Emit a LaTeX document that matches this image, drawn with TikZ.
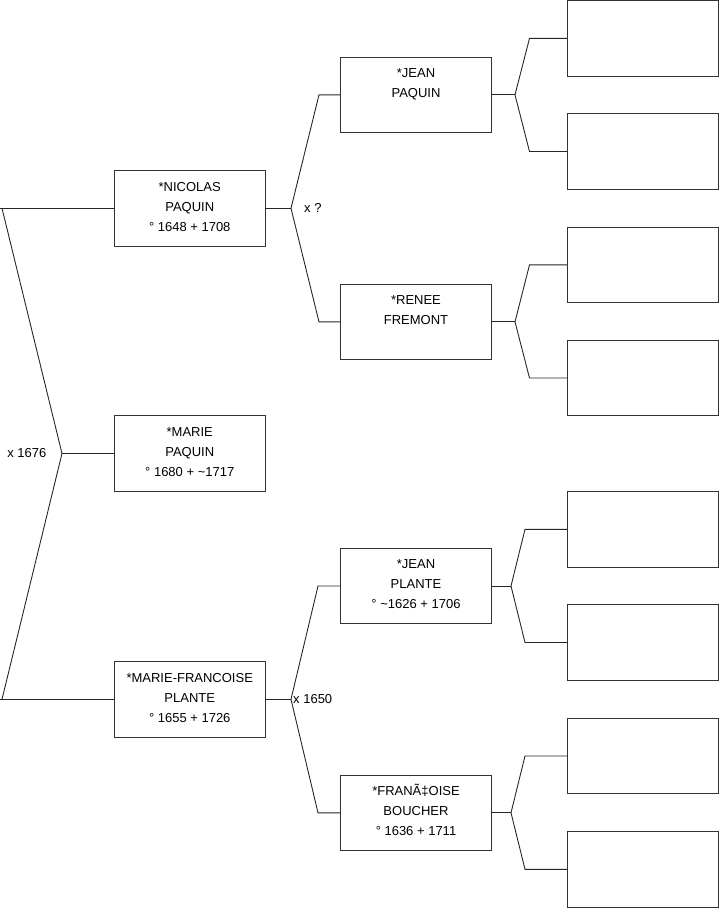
\documentclass[tikz,border=0pt]{standalone}
\usepackage{fontspec}
\setmainfont{Liberation Sans}
\newcommand{\ptext}[1]{\parbox[c][75.5pt][t]{151pt}{\centering\fontsize{13}{20}\selectfont\rule{0pt}{20.6pt}#1\par}}
\tikzset{
  pbox/.style={draw=black!80, line width=0.9pt, inner sep=0pt, minimum width=151pt, minimum height=75.5pt},
  conn/.style={draw=black!85, line width=0.9pt},
  lbl/.style={font=\fontsize{13}{15}\selectfont, inner sep=0pt}
}
\begin{document}
\begin{tikzpicture}[x=1pt,y=-1pt]
\useasboundingbox (0,0) rectangle (719,908);
% generation 1
\node[pbox] (nic) at (189.75,208.3) {\ptext{*NICOLAS\\PAQUIN\\° 1648 + 1708}};
\node[pbox] (mar) at (189.75,453.5) {\ptext{*MARIE\\PAQUIN\\° 1680 + \textasciitilde1717}};
\node[pbox] (mf) at (189.75,699.3) {\ptext{*MARIE-FRANCOISE\\PLANTE\\° 1655 + 1726}};
% generation 2
\node[pbox] (jpa) at (416,94.8) {\ptext{*JEAN\\PAQUIN}};
\node[pbox] (ren) at (416,321.8) {\ptext{*RENEE\\FREMONT}};
\node[pbox] (jpl) at (416,586) {\ptext{*JEAN\\PLANTE\\° \textasciitilde1626 + 1706}};
\node[pbox] (fra) at (416,812.8) {\ptext{*FRANÃ‡OISE\\BOUCHER\\° 1636 + 1711}};
% generation 3 (empty)
\node[pbox] (e1) at (642.8,38.3) {};
\node[pbox] (e2) at (642.8,151.5) {};
\node[pbox] (e3) at (642.8,264.8) {};
\node[pbox] (e4) at (642.8,378) {};
\node[pbox] (e5) at (642.8,529.3) {};
\node[pbox] (e6) at (642.8,642.5) {};
\node[pbox] (e7) at (642.8,756) {};
\node[pbox] (e8) at (642.8,869.3) {};
% junction coordinates
\coordinate (l0) at (0,208.3);
\coordinate (l1) at (2,208.3);
\coordinate (lv) at (62,453.5);
\coordinate (l2) at (2,699.3);
\coordinate (l3) at (0,699.3);
\coordinate (nv) at (291,208.3);
\coordinate (nt) at (319,94.8);
\coordinate (nb) at (319,321.8);
\coordinate (mv) at (291,699.3);
\coordinate (mt) at (318,586);
\coordinate (mb) at (318,812.8);
\coordinate (av) at (515,94.8);
\coordinate (at1) at (529.5,38.3);
\coordinate (ab1) at (529.5,151.5);
\coordinate (bv) at (515,321.8);
\coordinate (bt) at (529.5,264.8);
\coordinate (bb) at (529.5,378);
\coordinate (cv) at (511,586);
\coordinate (ct) at (525,529.3);
\coordinate (cb) at (525,642.5);
\coordinate (dv) at (511,812.8);
\coordinate (dt) at (525,756);
\coordinate (db) at (525,869.3);
% connectors
\draw[conn] (nic.west) -- (l0);
\draw[conn] (l1) -- (lv) -- (l2);
\draw[conn] (l3) -- (mf.west);
\draw[conn] (lv) -- (mar.west);
\draw[conn] (nic.east) -- (nv);
\draw[conn] (jpa.west) -- (nt) -- (nv) -- (nb) -- (ren.west);
\draw[conn] (mf.east) -- (mv);
\draw[conn] (jpl.west) -- (mt) -- (mv) -- (mb) -- (fra.west);
\draw[conn] (jpa.east) -- (av);
\draw[conn] (e1.west) -- (at1) -- (av) -- (ab1) -- (e2.west);
\draw[conn] (ren.east) -- (bv);
\draw[conn] (e3.west) -- (bt) -- (bv) -- (bb) -- (e4.west);
\draw[conn] (jpl.east) -- (cv);
\draw[conn] (e5.west) -- (ct) -- (cv) -- (cb) -- (e6.west);
\draw[conn] (fra.east) -- (dv);
\draw[conn] (e7.west) -- (dt) -- (dv) -- (db) -- (e8.west);
% marriage labels
\node[lbl, anchor=east] (x1676) at (46.5,453.5) {x 1676};
\node[lbl, anchor=west] (xq) at (304,208.3) {x ?};
\node[lbl, anchor=west] (x1650) at (293,699.3) {x 1650};
\end{tikzpicture}
\end{document}
